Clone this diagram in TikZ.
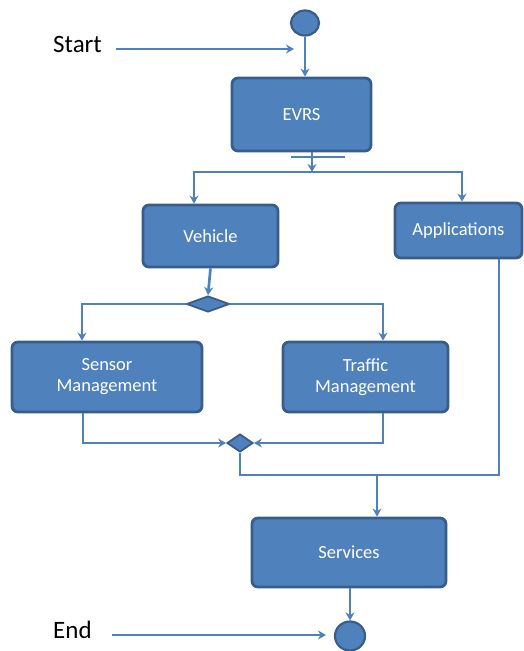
\documentclass[tikz,border=0pt]{standalone}
\usepackage{fontspec}
\setmainfont{Carlito}
\usetikzlibrary{arrows.meta,shapes.geometric}
\definecolor{boxfill}{HTML}{4F81BD}
\definecolor{boxedge}{HTML}{385D8A}
\begin{document}
\begin{tikzpicture}[x=1pt,y=-1pt,
  box/.style={draw=boxedge, fill=boxfill, line width=2.8pt, rounded corners=6pt,
    text=white, font=\fontsize{18.5}{21}\selectfont, align=center, inner sep=0pt},
  dot/.style={ellipse, draw=boxedge, fill=boxfill, line width=2.2pt, inner sep=0pt},
  gate/.style={diamond, draw=boxedge, fill=boxfill, line width=1.8pt, inner sep=0pt},
  wire/.style={draw=boxfill, line width=2.7pt},
  conn/.style={wire, -{Stealth[length=8pt,width=9pt]}},
  lbl/.style={font=\fontsize{25}{28}\selectfont, text=black, inner sep=0pt}]
\useasboundingbox (0,0) rectangle (524,651);
% nodes
\node[dot, minimum width=28pt, minimum height=25pt] (start) at (305,23) {};
\node[box, minimum width=139pt, minimum height=73pt] (evrs) at (301.5,114.5) {EVRS};
\node[fill=boxfill, minimum width=54pt, minimum height=2.5pt, inner sep=0pt] (fork) at (318,157) {};
\coordinate (split) at (312,172);
\node[box, minimum width=135pt, minimum height=62pt] (vehicle) at (210.5,236) {Vehicle};
\node[box, minimum width=127pt, minimum height=55pt] (apps) at (458.5,230.5) {Applications};
\node[gate, minimum width=43pt, minimum height=16pt, aspect=2.7] (d1) at (208,304) {};
\node[box, minimum width=190pt, minimum height=70pt] (sensor) at (107,377) {Sensor\\Management};
\node[box, minimum width=165pt, minimum height=70pt] (traffic) at (365.5,377) {Traffic\\Management};
\node[gate, minimum width=26pt, minimum height=18pt, aspect=1.5] (d2) at (240,443) {};
\coordinate (merge) at (377,475);
\node[box, minimum width=194pt, minimum height=69pt] (services) at (349,552.5) {Services};
\node[dot, minimum width=30pt, minimum height=29pt] (end) at (350,636) {};
\node[lbl, anchor=west] (startlbl) at (53,44) {Start};
\node[lbl, anchor=west] (endlbl) at (53,630) {End};
\coordinate (starttip) at (294,49);
\coordinate (endtip) at (326,635);
% connectors
\draw[conn] (startlbl.east |- starttip) ++(14,0) -- (starttip);
\draw[conn] (endlbl.east |- endtip) ++(20,0) -- (endtip);
\draw[conn] (start) -- (start |- evrs.north);
\draw[wire] (evrs.south -| split) -- (fork.south -| split);
\draw[conn] (fork.south -| split) -- (split);
\draw[conn] (split) -| ([xshift=-16.5pt]vehicle.north);
\draw[conn] (split) -| ([xshift=3.5pt]apps.north);
\draw[conn] (vehicle.south) -- (d1.north);
\draw[conn] (d1.west) -| ([xshift=-25pt]sensor.north);
\draw[conn] (d1.east) -| ([xshift=17.5pt]traffic.north);
\draw[conn] ([xshift=-24pt]sensor.south) |- (d2.west);
\draw[conn] ([xshift=17.5pt]traffic.south) |- (d2.east);
\draw[wire] (d2.south) |- (merge);
\draw[wire] ([xshift=40.5pt]apps.south) |- (merge);
\draw[conn] (merge) -- (merge |- services.north);
\draw[conn] (services.south -| end) -- (end.north);
\end{tikzpicture}
\end{document}
